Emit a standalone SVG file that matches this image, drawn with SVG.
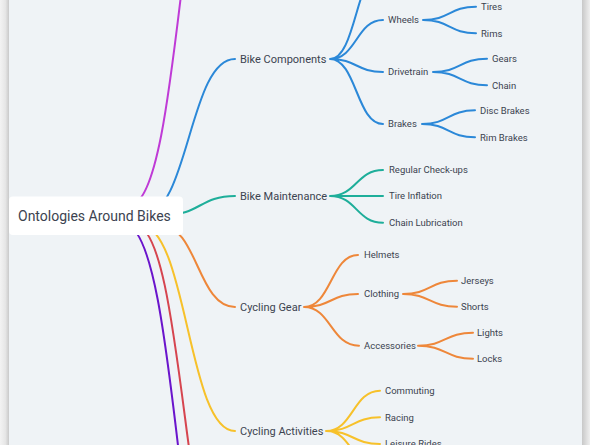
<svg xmlns="http://www.w3.org/2000/svg" width="590" height="445" viewBox="0 0 590 445">
<defs>
<linearGradient id="lsh" x1="0" x2="1" y1="0" y2="0"><stop offset="0" stop-color="#f3f3f3"/><stop offset="0.6" stop-color="#e6e6e6"/><stop offset="1" stop-color="#c9c9c9"/></linearGradient>
<linearGradient id="rsh" x1="0" x2="1" y1="0" y2="0"><stop offset="0" stop-color="#c8c8c8"/><stop offset="1" stop-color="#efefef"/></linearGradient>
<style>
.t{font-family:Roboto,"Liberation Sans",sans-serif;fill:#3c4350}
.l1{font-size:11px}
.l2{font-size:9.5px}
.root{font-size:14px}
.e{fill:none;stroke-width:2;stroke-linecap:round}
.c1{stroke:#2b88d8}.c2{stroke:#1eae9a}.c3{stroke:#ee873a}.c4{stroke:#f7c12a}.c5{stroke:#d6454f}.c6{stroke:#6a14cc}.c7{stroke:#bf3ad6}
</style>
</defs>
<rect x="0" y="0" width="590" height="445" fill="#f3f3f3"/>
<rect x="0" y="0" width="9" height="445" fill="url(#lsh)"/>
<rect x="582" y="0" width="8" height="445" fill="url(#rsh)"/>
<rect x="9" y="0" width="573" height="445" fill="#eff3f6"/>
<g id="connectors">
<path class="e c7" d="M130 205C182.5 205 182.5 -240 235 -240"/>
<path class="e c1" d="M143 215C189 215 189 59 235 59"/>
<path class="e c2" d="M165 215C200 215 200 196 235 196"/>
<path class="e c3" d="M160 225C197.5 225 197.5 307 235 307"/>
<path class="e c4" d="M140 225C187.5 225 187.5 431 235 431"/>
<path class="e c5" d="M135 225C185 225 185 610 235 610"/>
<path class="e c6" d="M125 225C180 225 180 700 235 700"/>
<path class="e c1" d="M330 59C356.5 59 356.5 -33 383 -33M330 59C356.5 59 356.5 20 383 20M330 59C356.5 59 356.5 72 383 72M330 59C356.5 59 356.5 124 383 124"/>
<path class="e c1" d="M423 20C449.5 20 449.5 6.7 476 6.7M423 20C449.5 20 449.5 33.3 476 33.3"/>
<path class="e c1" d="M433 72C460 72 460 58.7 487 58.7M433 72C460 72 460 85.3 487 85.3"/>
<path class="e c1" d="M422 124C448.5 124 448.5 110.3 475 110.3M422 124C448.5 124 448.5 137.3 475 137.3"/>
<path class="e c2" d="M330 196C356.5 196 356.5 170 383 170M330 196L383 196M330 196C356.5 196 356.5 222.7 383 222.7"/>
<path class="e c3" d="M304 307C331 307 331 255 358 255M304 307C331 307 331 294 358 294M304 307C331 307 331 345.7 359 345.7"/>
<path class="e c3" d="M403 294C430 294 430 280.7 457 280.7M403 294C430 294 430 306.7 457 306.7"/>
<path class="e c3" d="M418 345.7C445.5 345.7 445.5 332.7 473 332.7M418 345.7C445.5 345.7 445.5 358.7 473 358.7"/>
<path class="e c4" d="M326 431C353 431 353 390.7 380 390.7M326 431C353 431 353 417.3 380 417.3M326 431C353 431 353 444 380 444M326 431C353 431 353 470.7 380 470.7"/>
</g>
<g id="root"><rect x="9" y="196.5" width="174" height="38.5" rx="4" fill="#ffffff"/><text class="t root" x="18" y="221">Ontologies Around Bikes</text></g>
<g id="bike-components"><text class="t l1" x="240" y="63">Bike Components</text></g>
<g id="wheels"><text class="t l2" x="388" y="23.4">Wheels</text></g>
<g id="tires"><text class="t l2" x="481" y="10.1">Tires</text></g>
<g id="rims"><text class="t l2" x="481" y="36.7">Rims</text></g>
<g id="drivetrain"><text class="t l2" x="388" y="75.4">Drivetrain</text></g>
<g id="gears"><text class="t l2" x="492" y="62.1">Gears</text></g>
<g id="chain"><text class="t l2" x="492" y="88.7">Chain</text></g>
<g id="brakes"><text class="t l2" x="388" y="127.4">Brakes</text></g>
<g id="disc-brakes"><text class="t l2" x="480" y="113.7">Disc Brakes</text></g>
<g id="rim-brakes"><text class="t l2" x="480" y="140.7">Rim Brakes</text></g>
<g id="bike-maintenance"><text class="t l1" x="240" y="200">Bike Maintenance</text></g>
<g id="regular-checkups"><text class="t l2" x="389" y="173.4">Regular Check-ups</text></g>
<g id="tire-inflation"><text class="t l2" x="389" y="199.4">Tire Inflation</text></g>
<g id="chain-lubrication"><text class="t l2" x="389" y="226.1">Chain Lubrication</text></g>
<g id="cycling-gear"><text class="t l1" x="240" y="311">Cycling Gear</text></g>
<g id="helmets"><text class="t l2" x="364" y="258.4">Helmets</text></g>
<g id="clothing"><text class="t l2" x="364" y="297.4">Clothing</text></g>
<g id="jerseys"><text class="t l2" x="461" y="284.1">Jerseys</text></g>
<g id="shorts"><text class="t l2" x="461" y="310.1">Shorts</text></g>
<g id="accessories"><text class="t l2" x="364" y="349.1">Accessories</text></g>
<g id="lights"><text class="t l2" x="477" y="336.1">Lights</text></g>
<g id="locks"><text class="t l2" x="477" y="362.1">Locks</text></g>
<g id="cycling-activities"><text class="t l1" x="240" y="435">Cycling Activities</text></g>
<g id="commuting"><text class="t l2" x="385" y="394.1">Commuting</text></g>
<g id="racing"><text class="t l2" x="385" y="420.7">Racing</text></g>
<g id="leisure-rides"><text class="t l2" x="385" y="447.4">Leisure Rides</text></g>
</svg>
